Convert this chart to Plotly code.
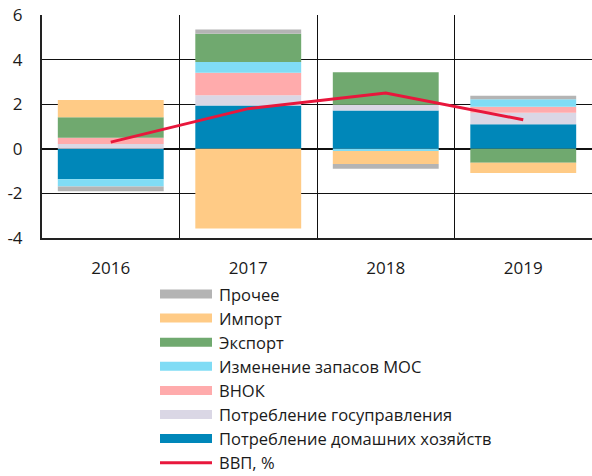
import plotly.graph_objs as go

# data
years = ['2016', '2017', '2018', '2019']

household = [-1.36, 1.94, 1.72, 1.10]   # Потребление домашних хозяйств
government = [0.22, 0.46, 0.25, 0.52]   # Потребление госуправления
gfcf = [0.28, 1.01, 0.0, 0.27]          # ВНОК
inventories = [-0.33, 0.48, -0.10, 0.33]  # Изменение запасов МОС
exports = [0.91, 1.27, 1.46, -0.63]     # Экспорт
imports = [0.78, -3.57, -0.58, -0.45]   # Импорт
other = [-0.21, 0.19, -0.22, 0.16]      # Прочее
gdp = [0.3, 1.8, 2.5, 1.3]              # ВВП, %

y_ticks = [-4, -2, 0, 2, 4, 6]
y_ticklabels = ['-4', '-2', '0', '2', '4', '6']  # plain hyphen as in the original

# stacking order (bottom first)
series = [
    ('Потребление домашних хозяйств', household, '#0087b9'),
    ('Потребление госуправления', government, '#dad7e5'),
    ('ВНОК', gfcf, '#ffabac'),
    ('Изменение запасов МОС', inventories, '#80dcf5'),
    ('Экспорт', exports, '#70a96f'),
    ('Импорт', imports, '#ffcb86'),
    ('Прочее', other, '#b4b4b4'),
]
gdp_color = '#e8173c'

W, H = 592, 476
L, R, T, B = 42, 0, 15, 238
font = 'Open Sans'

fig = go.Figure()
for name, vals, col in series:
    fig.add_trace(go.Bar(x=years, y=vals, name=name, marker=dict(color=col, line=dict(width=0)),
                         showlegend=False))

fig.add_trace(go.Scatter(x=years, y=gdp, name='ВВП, %', mode='lines',
                         line=dict(color=gdp_color, width=3), showlegend=False))

# hand-made legend below the plot (wide swatches like the original)
plot_w = W - L - R
plot_h = H - T - B
def px_x(p):
    return (p - L) / plot_w
def px_y(p):
    return (H - B - p) / plot_h

legend_items = [(n, c) for n, _, c in series[::-1]] + [('ВВП, %', gdp_color)]
row0, step = 294, 24.1
for i, (name, col) in enumerate(legend_items):
    yc = row0 + i * step
    if name == 'ВВП, %':
        fig.add_shape(type='line', xref='paper', yref='paper',
                      x0=px_x(160), x1=px_x(212), y0=px_y(yc), y1=px_y(yc),
                      line=dict(color=col, width=3))
    else:
        fig.add_shape(type='rect', xref='paper', yref='paper',
                      x0=px_x(160), x1=px_x(212), y0=px_y(yc - 4.5), y1=px_y(yc + 4.5),
                      fillcolor=col, line=dict(width=0))
    fig.add_annotation(text=name, xref='paper', yref='paper', x=px_x(217), y=px_y(yc),
                       xanchor='left', yanchor='middle', showarrow=False,
                       font=dict(family=font, size=16.5, color='#1a1a1a'))

fig.update_layout(
    width=W, height=H,
    margin=dict(l=L, r=R, t=T, b=B),
    barmode='relative', bargap=0.23,
    plot_bgcolor='white', paper_bgcolor='white',
    font=dict(family=font, size=16, color='#1a1a1a'),
    xaxis=dict(type='category', tickson='boundaries', showgrid=True, gridcolor='#111',
               gridwidth=1, ticks='', showline=True, linecolor='#222', linewidth=2,
               ticklabelstandoff=14, tickfont=dict(size=17), automargin=False),
    yaxis=dict(range=[-4, 6], tickvals=y_ticks, ticktext=y_ticklabels,
               showgrid=True, gridcolor='#111', gridwidth=1,
               zeroline=True, zerolinecolor='#111', zerolinewidth=2,
               showline=True, linecolor='#222', linewidth=2, ticks='',
               ticklabelstandoff=14, tickfont=dict(size=17), automargin=False),
)

# the page body has a default 8px margin; drop it so the figure fills the window
fig.write_html('out.html', config={'displayModeBar': False},
               post_script="document.body.style.margin='0';")
